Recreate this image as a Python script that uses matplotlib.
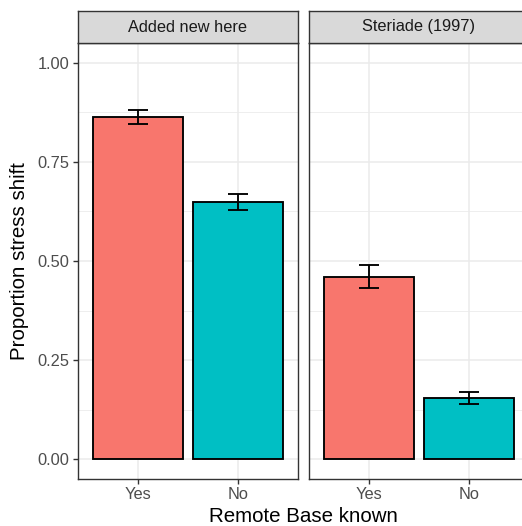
import matplotlib
matplotlib.use('Agg')
import matplotlib.pyplot as plt
from matplotlib.ticker import FixedLocator

plt.rcParams['font.family'] = ['Liberation Sans', 'DejaVu Sans']

# --- Data ---
facets     = ['Added new here', 'Steriade (1997)']
categories = ['Yes', 'No']
props      = [[0.864, 0.649], [0.460, 0.154]]
errs       = [[0.018, 0.021], [0.029, 0.016]]

COLORS    = ['#F8766D', '#00BFC4']
GRID      = '#EBEBEB'
BORDER    = '#333333'
TICK_TXT  = '#4D4D4D'

W, H = 522, 526
fig = plt.figure(figsize=(W / 100, H / 100), dpi=100)
fig.patch.set_facecolor('white')


def px_box(x0, x1, y0, y1):
    """pixel box (top-left origin) -> figure fraction rect"""
    return [x0 / W, 1 - y1 / H, (x1 - x0) / W, (y1 - y0) / H]


panel_x = [(78, 298), (309, 529)]
for i, facet in enumerate(facets):
    x0, x1 = panel_x[i]
    ax = fig.add_axes(px_box(x0, x1, 43, 479))
    ax.set_facecolor('white')
    xs = range(len(categories))
    ax.bar(xs, props[i], width=0.9, color=COLORS, edgecolor='black',
           linewidth=1.35, zorder=3)
    ax.errorbar(xs, props[i], yerr=errs[i], fmt='none', ecolor='black',
                elinewidth=1.35, capsize=7, capthick=1.35, zorder=4)

    ax.set_xlim(-0.6, 1.6)
    ax.set_ylim(-0.05, 1.05)
    ax.set_xticks(list(xs))
    ax.set_xticklabels(categories)
    ax.yaxis.set_major_locator(FixedLocator([0, 0.25, 0.5, 0.75, 1.0]))
    ax.yaxis.set_minor_locator(FixedLocator([0.125, 0.375, 0.625, 0.875]))
    ax.grid(True, which='major', color=GRID, linewidth=1.1, zorder=0)
    ax.grid(True, which='minor', axis='y', color=GRID, linewidth=0.6, zorder=0)
    ax.set_axisbelow(True)

    ax.tick_params(axis='both', which='major', length=3.6, width=1.0,
                   color=BORDER, labelcolor=TICK_TXT, labelsize=11.8, pad=2.5)
    ax.tick_params(axis='y', which='minor', length=0)
    if i == 0:
        ax.set_yticklabels(['0.00', '0.25', '0.50', '0.75', '1.00'])
    else:
        ax.tick_params(axis='y', which='major', left=False, labelleft=False)
    for sp in ax.spines.values():
        sp.set_edgecolor(BORDER)
        sp.set_linewidth(1.0)

    # strip
    sax = fig.add_axes(px_box(x0, x1, 11, 43))
    sax.set_facecolor('#D9D9D9')
    sax.set_xticks([])
    sax.set_yticks([])
    for sp in sax.spines.values():
        sp.set_edgecolor(BORDER)
        sp.set_linewidth(1.0)
    sax.text(0.5, 0.5, facet, ha='center', va='center', fontsize=11.8,
             color='#1A1A1A', transform=sax.transAxes)

fig.text(20 / W, 1 - 261 / H, 'Proportion stress shift', rotation=90,
         ha='center', va='center', fontsize=14.8, color='black')
fig.text(303 / W, 1 - 517 / H, 'Remote Base known', ha='center', va='center',
         fontsize=14.8, color='black')

fig.savefig('out.png', dpi=100, facecolor='white')
